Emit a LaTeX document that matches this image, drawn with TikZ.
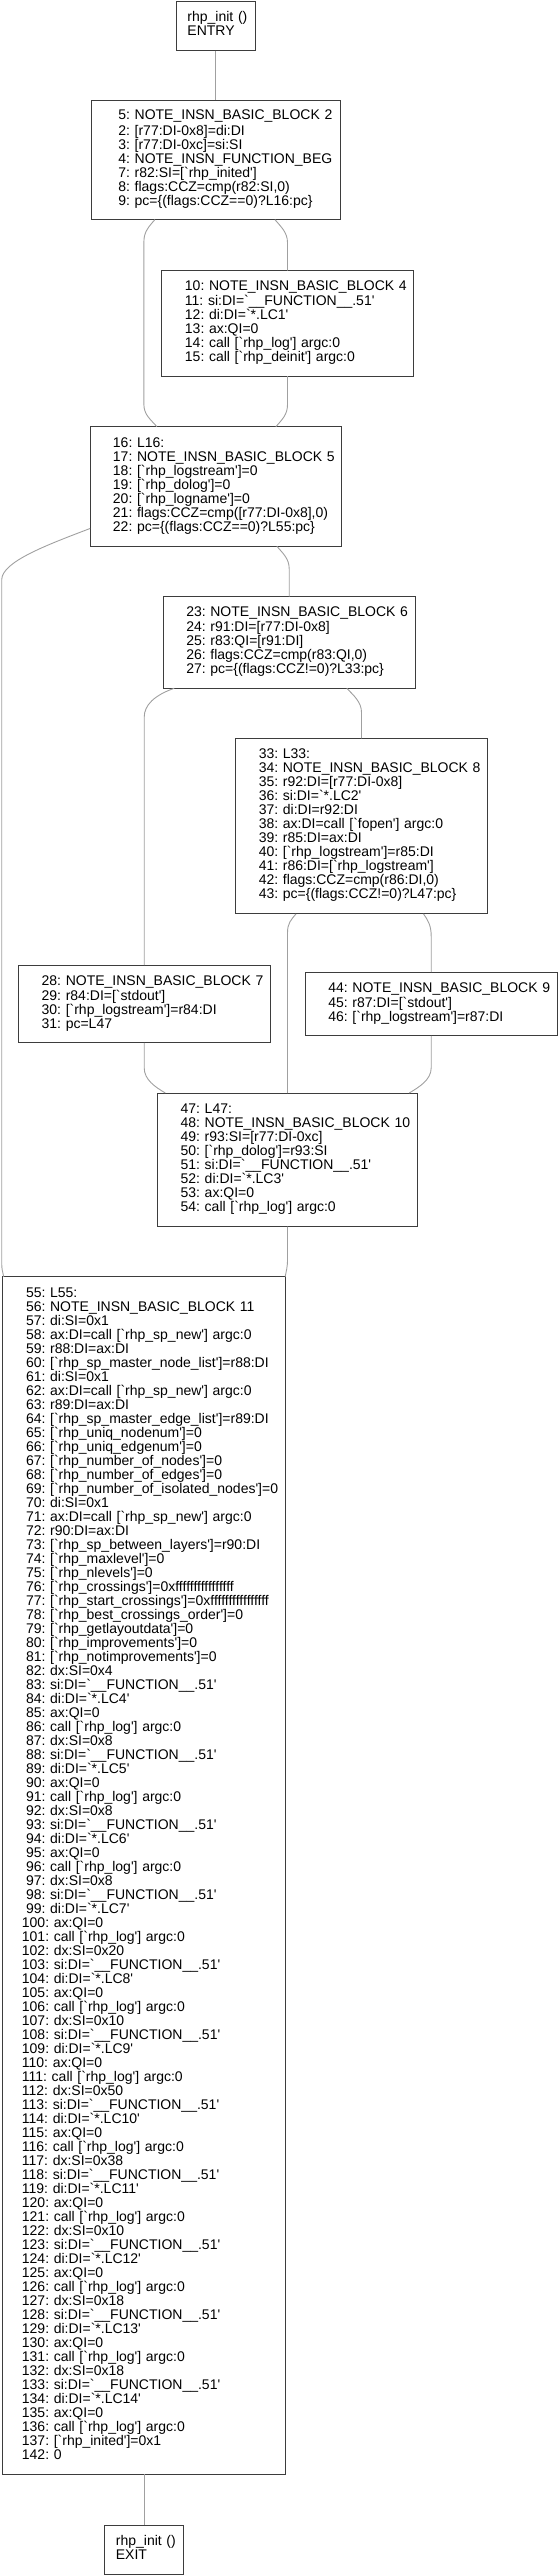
\documentclass[tikz,border=0pt]{standalone}
\usepackage{fontspec}
\newfontfamily\lsans{Liberation Sans}
\usetikzlibrary{calc}
\definecolor{boxc}{HTML}{3D3D3D}
\definecolor{edgec}{HTML}{A0A0A0}
\newcommand{\Ind}{\hspace*{4.1pt}}
\tikzset{
  blk/.style={draw=boxc, line width=1pt, rectangle, inner sep=0pt, outer sep=0pt},
  txt/.style={inner sep=0pt, outer sep=0pt, align=left, text width=275pt, anchor=west, font=\lsans\fontsize{14}{14}\selectfont\frenchspacing, text=black},
  link/.style={draw=edgec, line width=0.9pt}
}
\begin{document}
\begin{tikzpicture}[x=1pt,y=-1pt]
\useasboundingbox (0,0) rectangle (558,2576);
% boxes
\node[blk, minimum width=78.3pt, minimum height=49.6pt] (entry) at (215.9,25.8) {};
\node[txt] (entryt) at ($(entry.west)+(10.7,0)$) {\strut rhp\_init ()\\ENTRY\strut};

\node[blk, minimum width=248.3pt, minimum height=119.6pt] (b2) at (215.9,159.8) {};
\node[txt] (b2t) at ($(b2.west)+(26.6,0)$) {\strut 5: NOTE\_INSN\_BASIC\_BLOCK 2\\
2: [r77:DI-0x8]=di:DI\\
3: [r77:DI-0xc]=si:SI\\
4: NOTE\_INSN\_FUNCTION\_BEG\\
7: r82:SI=[`rhp\_inited']\\
8: flags:CCZ=cmp(r82:SI,0)\\
9: pc=\{(flags:CCZ==0)?L16:pc\}\strut};

\node[blk, minimum width=251.7pt, minimum height=105.6pt] (b4) at (287.5,323.3) {};
\node[txt] (b4t) at ($(b4.west)+(23.3,0)$) {\strut 10: NOTE\_INSN\_BASIC\_BLOCK 4\\
11: si:DI=`\_\_FUNCTION\_\_.51'\\
12: di:DI=`*.LC1'\\
13: ax:QI=0\\
14: call [`rhp\_log'] argc:0\\
15: call [`rhp\_deinit'] argc:0\strut};

\node[blk, minimum width=251.7pt, minimum height=119.6pt] (b5) at (215.9,486.5) {};
\node[txt] (b5t) at ($(b5.west)+(22.9,0)$) {\strut 16: L16:\\
17: NOTE\_INSN\_BASIC\_BLOCK 5\\
18: [`rhp\_logstream']=0\\
19: [`rhp\_dolog']=0\\
20: [`rhp\_logname']=0\\
21: flags:CCZ=cmp([r77:DI-0x8],0)\\
22: pc=\{(flags:CCZ==0)?L55:pc\}\strut};

\node[blk, minimum width=251.7pt, minimum height=91.6pt] (b6) at (289.2,642.5) {};
\node[txt] (b6t) at ($(b6.west)+(22.9,0)$) {\strut 23: NOTE\_INSN\_BASIC\_BLOCK 6\\
24: r91:DI=[r77:DI-0x8]\\
25: r83:QI=[r91:DI]\\
26: flags:CCZ=cmp(r83:QI,0)\\
27: pc=\{(flags:CCZ!=0)?L33:pc\}\strut};

\node[blk, minimum width=251.7pt, minimum height=175.6pt] (b8) at (361.5,826.1) {};
\node[txt] (b8t) at ($(b8.west)+(23.1,0)$) {\strut 33: L33:\\
34: NOTE\_INSN\_BASIC\_BLOCK 8\\
35: r92:DI=[r77:DI-0x8]\\
36: si:DI=`*.LC2'\\
37: di:DI=r92:DI\\
38: ax:DI=call [`fopen'] argc:0\\
39: r85:DI=ax:DI\\
40: [`rhp\_logstream']=r85:DI\\
41: r86:DI=[`rhp\_logstream']\\
42: flags:CCZ=cmp(r86:DI,0)\\
43: pc=\{(flags:CCZ!=0)?L47:pc\}\strut};

\node[blk, minimum width=251.7pt, minimum height=77.6pt] (b7) at (144.2,1004) {};
\node[txt] (b7t) at ($(b7.west)+(23.3,0)$) {\strut 28: NOTE\_INSN\_BASIC\_BLOCK 7\\
29: r84:DI=[`stdout']\\
30: [`rhp\_logstream']=r84:DI\\
31: pc=L47\strut};

\node[blk, minimum width=251.7pt, minimum height=63.6pt] (b9) at (431.2,1004) {};
\node[txt] (b9t) at ($(b9.west)+(23,0)$) {\strut 44: NOTE\_INSN\_BASIC\_BLOCK 9\\
45: r87:DI=[`stdout']\\
46: [`rhp\_logstream']=r87:DI\strut};

\node[blk, minimum width=260.4pt, minimum height=133.6pt] (b10) at (287.5,1159.8) {};
\node[txt] (b10t) at ($(b10.west)+(23.3,0)$) {\strut 47: L47:\\
48: NOTE\_INSN\_BASIC\_BLOCK 10\\
49: r93:SI=[r77:DI-0xc]\\
50: [`rhp\_dolog']=r93:SI\\
51: si:DI=`\_\_FUNCTION\_\_.51'\\
52: di:DI=`*.LC3'\\
53: ax:QI=0\\
54: call [`rhp\_log'] argc:0\strut};

\node[blk, minimum width=283pt, minimum height=1197.6pt] (b11) at (144.2,1875.5) {};
\node[txt] (b11t) at ($(b11.west)+(19.2,0)$) {\Ind\strut 55: L55:\\
\Ind 56: NOTE\_INSN\_BASIC\_BLOCK 11\\
\Ind 57: di:SI=0x1\\
\Ind 58: ax:DI=call [`rhp\_sp\_new'] argc:0\\
\Ind 59: r88:DI=ax:DI\\
\Ind 60: [`rhp\_sp\_master\_node\_list']=r88:DI\\
\Ind 61: di:SI=0x1\\
\Ind 62: ax:DI=call [`rhp\_sp\_new'] argc:0\\
\Ind 63: r89:DI=ax:DI\\
\Ind 64: [`rhp\_sp\_master\_edge\_list']=r89:DI\\
\Ind 65: [`rhp\_uniq\_nodenum']=0\\
\Ind 66: [`rhp\_uniq\_edgenum']=0\\
\Ind 67: [`rhp\_number\_of\_nodes']=0\\
\Ind 68: [`rhp\_number\_of\_edges']=0\\
\Ind 69: [`rhp\_number\_of\_isolated\_nodes']=0\\
\Ind 70: di:SI=0x1\\
\Ind 71: ax:DI=call [`rhp\_sp\_new'] argc:0\\
\Ind 72: r90:DI=ax:DI\\
\Ind 73: [`rhp\_sp\_between\_layers']=r90:DI\\
\Ind 74: [`rhp\_maxlevel']=0\\
\Ind 75: [`rhp\_nlevels']=0\\
\Ind 76: [`rhp\_crossings']=0xffffffffffffffff\\
\Ind 77: [`rhp\_start\_crossings']=0xffffffffffffffff\\
\Ind 78: [`rhp\_best\_crossings\_order']=0\\
\Ind 79: [`rhp\_getlayoutdata']=0\\
\Ind 80: [`rhp\_improvements']=0\\
\Ind 81: [`rhp\_notimprovements']=0\\
\Ind 82: dx:SI=0x4\\
\Ind 83: si:DI=`\_\_FUNCTION\_\_.51'\\
\Ind 84: di:DI=`*.LC4'\\
\Ind 85: ax:QI=0\\
\Ind 86: call [`rhp\_log'] argc:0\\
\Ind 87: dx:SI=0x8\\
\Ind 88: si:DI=`\_\_FUNCTION\_\_.51'\\
\Ind 89: di:DI=`*.LC5'\\
\Ind 90: ax:QI=0\\
\Ind 91: call [`rhp\_log'] argc:0\\
\Ind 92: dx:SI=0x8\\
\Ind 93: si:DI=`\_\_FUNCTION\_\_.51'\\
\Ind 94: di:DI=`*.LC6'\\
\Ind 95: ax:QI=0\\
\Ind 96: call [`rhp\_log'] argc:0\\
\Ind 97: dx:SI=0x8\\
\Ind 98: si:DI=`\_\_FUNCTION\_\_.51'\\
\Ind 99: di:DI=`*.LC7'\\
100: ax:QI=0\\
101: call [`rhp\_log'] argc:0\\
102: dx:SI=0x20\\
103: si:DI=`\_\_FUNCTION\_\_.51'\\
104: di:DI=`*.LC8'\\
105: ax:QI=0\\
106: call [`rhp\_log'] argc:0\\
107: dx:SI=0x10\\
108: si:DI=`\_\_FUNCTION\_\_.51'\\
109: di:DI=`*.LC9'\\
110: ax:QI=0\\
111: call [`rhp\_log'] argc:0\\
112: dx:SI=0x50\\
113: si:DI=`\_\_FUNCTION\_\_.51'\\
114: di:DI=`*.LC10'\\
115: ax:QI=0\\
116: call [`rhp\_log'] argc:0\\
117: dx:SI=0x38\\
118: si:DI=`\_\_FUNCTION\_\_.51'\\
119: di:DI=`*.LC11'\\
120: ax:QI=0\\
121: call [`rhp\_log'] argc:0\\
122: dx:SI=0x10\\
123: si:DI=`\_\_FUNCTION\_\_.51'\\
124: di:DI=`*.LC12'\\
125: ax:QI=0\\
126: call [`rhp\_log'] argc:0\\
127: dx:SI=0x18\\
128: si:DI=`\_\_FUNCTION\_\_.51'\\
129: di:DI=`*.LC13'\\
130: ax:QI=0\\
131: call [`rhp\_log'] argc:0\\
132: dx:SI=0x18\\
133: si:DI=`\_\_FUNCTION\_\_.51'\\
134: di:DI=`*.LC14'\\
135: ax:QI=0\\
136: call [`rhp\_log'] argc:0\\
137: [`rhp\_inited']=0x1\\
142: 0\strut};

\node[blk, minimum width=79pt, minimum height=49.6pt] (exit) at (144.2,2549.8) {};
\node[txt] (exitt) at ($(exit.west)+(11.2,0)$) {\strut rhp\_init ()\\EXIT\strut};

% connectors
\draw[link] (entry.south) -- (b2.north);
\draw[link] ($(b2.south)+(59,0)$) .. controls +(6,7) and +(0,-10) .. ($(b4.north)+(0,-28)$) -- (b4.north);
\draw[link] ($(b2.south)+(-61,0)$) .. controls +(-6,7) and +(0,-10) .. ($(b2.south)+(-72,22)$) -- ($(b5.north)+(-72,-22)$) .. controls +(0,10) and +(-6,-7) .. ($(b5.north)+(-59,0)$);
\draw[link] (b4.south) -- ($(b5.north)+(71.6,-22)$) .. controls +(0,10) and +(6,-7) .. ($(b5.north)+(60,0)$);
\draw[link] ($(b5.south)+(61,0)$) .. controls +(6,7) and +(0,-10) .. ($(b6.north)+(0,-28)$) -- (b6.north);
\draw[link] ($(b5.west)+(0,42)$) .. controls +(-42,16) and +(0,-18) .. ($(b11.north west)+(-1,-697)$) -- ($(b11.north west)+(-1,-14)$) .. controls +(0,7) and +(-1,-5) .. ($(b11.north west)+(1,0)$);
\draw[link] ($(b6.south)+(-115,0)$) .. controls +(-20,7) and +(0,-12) .. ($(b7.north)+(0,-248)$) -- (b7.north);
\draw[link] ($(b6.south)+(57.5,0)$) .. controls +(7,7) and +(0,-10) .. ($(b8.north)+(0,-26)$) -- (b8.north);
\draw[link] ($(b8.south)+(62,0)$) .. controls +(5,7) and +(0,-10) .. ($(b9.north)+(0,-36)$) -- (b9.north);
\draw[link] ($(b8.south)+(-65.5,0)$) .. controls +(-5,6) and +(0,-10) .. ($(b10.north)+(0,-160)$) -- (b10.north);
\draw[link] (b7.south) -- ($(b7.south)+(0,25)$) .. controls +(0,12) and +(-10,-6) .. ($(b10.north west)+(8,0)$);
\draw[link] (b9.south) -- ($(b9.south)+(0,32)$) .. controls +(0,12) and +(10,-6) .. ($(b10.north east)+(-8.5,0)$);
\draw[link] (b10.south) -- ($(b10.south)+(0,33)$) .. controls +(0,8) and +(1,-6) .. ($(b11.north east)+(-0.5,0)$);
\draw[link] (b11.south) -- (exit.north);
\end{tikzpicture}
\end{document}
